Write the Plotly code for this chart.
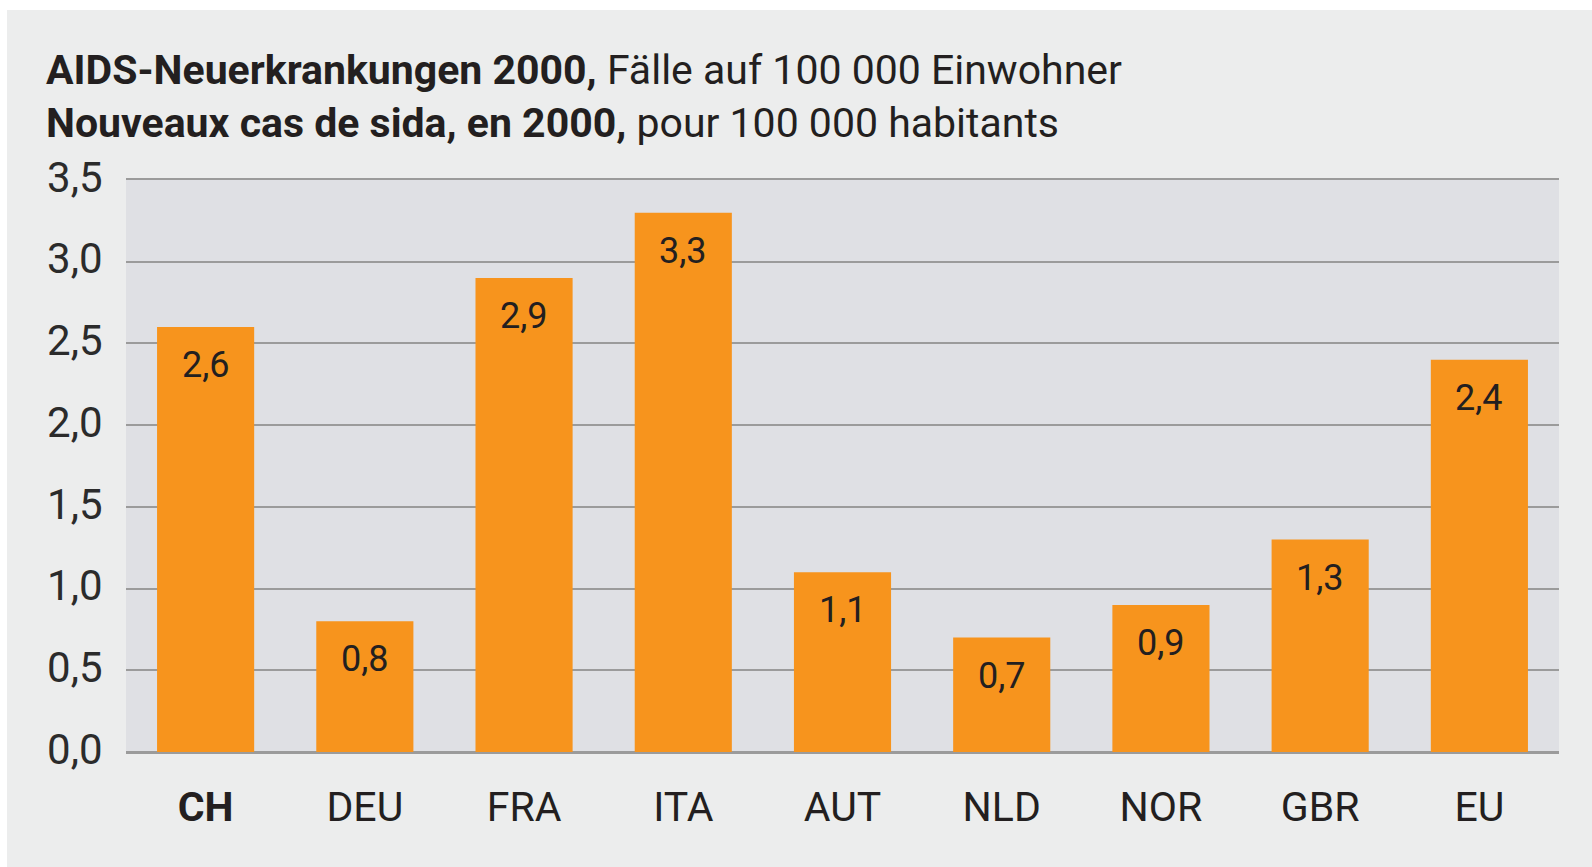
import plotly.graph_objects as go

categories = ["CH", "DEU", "FRA", "ITA", "AUT", "NLD", "NOR", "GBR", "EU"]
tick_labels = ["<b>CH</b>", "DEU", "FRA", "ITA", "AUT", "NLD", "NOR", "GBR", "EU"]
values = [2.6, 0.8, 2.9, 3.3, 1.1, 0.7, 0.9, 1.3, 2.4]
y_ticks = [0.0, 0.5, 1.0, 1.5, 2.0, 2.5, 3.0, 3.5]

FONT = "Roboto"
TXT = "#231F20"
GRID = "#9B9B9B"
W, H = 1592, 867
L, R, T, B = 126, 33, 180, 115
PW = W - L - R
PH = H - T - B

fig = go.Figure()
fig.add_trace(go.Bar(
    x=categories, y=values,
    marker=dict(color="#F7941D", line=dict(width=0)),
    hoverinfo="skip",
))

for c, v in zip(categories, values):
    fig.add_annotation(
        x=c, y=v, xref="x", yref="y",
        text=f"{v:.1f}".replace(".", ","),
        showarrow=False, yanchor="middle", yshift=-38,
        font=dict(family=FONT, size=36, color=TXT),
    )

# white border strips (left and top) outside the grey panel
fig.add_shape(type="rect", xref="paper", yref="paper",
              x0=-L / PW, x1=(7 - L) / PW, y0=-B / PH, y1=1 + T / PH,
              fillcolor="white", line=dict(width=0), layer="below")
fig.add_shape(type="rect", xref="paper", yref="paper",
              x0=-L / PW, x1=1 + R / PW, y0=1 + (T - 10) / PH, y1=1 + T / PH,
              fillcolor="white", line=dict(width=0), layer="below")

fig.update_layout(
    width=W, height=H,
    margin=dict(l=L, r=R, t=T, b=B, pad=0),
    paper_bgcolor="#ECEDED",
    plot_bgcolor="#DFE0E4",
    separators=", ",
    bargap=0.39,
    showlegend=False,
    font=dict(family=FONT, color=TXT),
    title=dict(
        text="<b>AIDS-Neuerkrankungen 2000,</b> Fälle auf 100 000 Einwohner<br>"
             "<b>Nouveaux cas de sida, en 2000,</b> pour 100 000 habitants",
        x=46 / W, xanchor="left", xref="container",
        y=1 - 84 / H, yanchor="top", yref="container",
        font=dict(family=FONT, size=41, color=TXT),
    ),
    xaxis=dict(
        tickvals=categories, ticktext=tick_labels,
        tickfont=dict(family=FONT, size=41, color=TXT),
        ticks="outside", ticklen=18, tickcolor="rgba(0,0,0,0)",
        showgrid=False, zeroline=False,
        showline=True, mirror=True, linecolor=GRID, linewidth=2,
    ),
    yaxis=dict(
        range=[0, 3.5], tickvals=y_ticks, tickformat=".1f",
        tickfont=dict(family=FONT, size=42, color="#2b2b2b"),
        ticks="outside", ticklen=14, tickcolor="rgba(0,0,0,0)",
        ticklabelshift=-3,
        showgrid=True, gridcolor=GRID, gridwidth=2,
        zeroline=True, zerolinecolor=GRID, zerolinewidth=2,
        showline=False,
    ),
)

fig.write_html(
    "out.html",
    config={"displayModeBar": False},
    post_script="document.body.style.margin='0';document.body.style.overflow='hidden';",
)
